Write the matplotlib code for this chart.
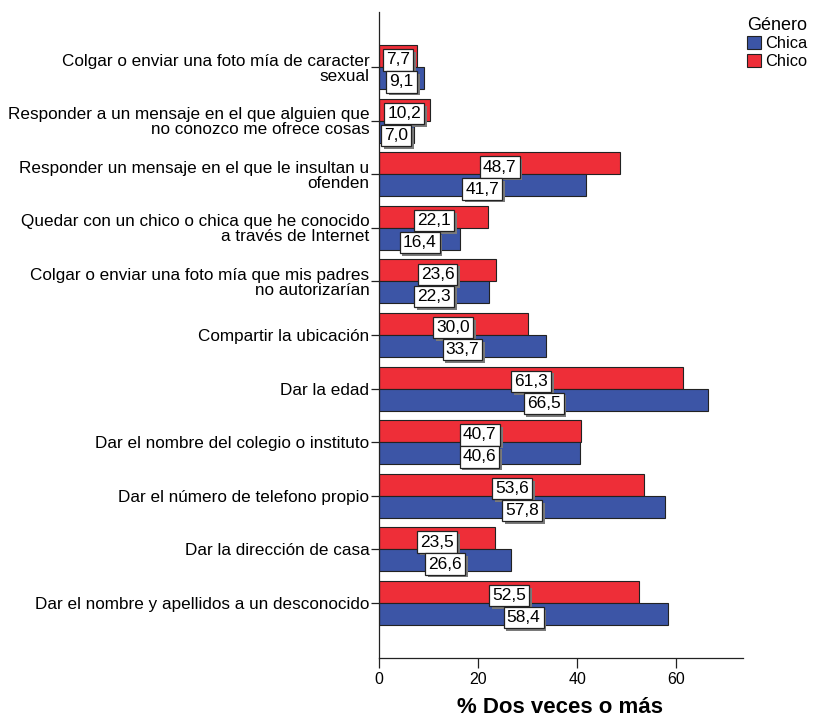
import matplotlib
matplotlib.use("Agg")
import matplotlib.pyplot as plt
import matplotlib.patheffects as pe
import numpy as np

plt.rcParams['font.family'] = ['Liberation Sans', 'DejaVu Sans']

categories = [
    "Colgar o enviar una foto mía de caracter\nsexual",
    "Responder a un mensaje en el que alguien que\nno conozco me ofrece cosas",
    "Responder un mensaje en el que le insultan u\nofenden",
    "Quedar con un chico o chica que he conocido\na través de Internet",
    "Colgar o enviar una foto mía que mis padres\nno autorizarían",
    "Compartir la ubicación",
    "Dar la edad",
    "Dar el nombre del colegio o instituto",
    "Dar el número de telefono propio",
    "Dar la dirección de casa",
    "Dar el nombre y apellidos a un desconocido",
]
chico = [7.7, 10.2, 48.7, 22.1, 23.6, 30.0, 61.3, 40.7, 53.6, 23.5, 52.5]
chica = [9.1, 7.0, 41.7, 16.4, 22.3, 33.7, 66.5, 40.6, 57.8, 26.6, 58.4]
xticks = [0, 20, 40, 60]

red = "#EE2E38"
blue = "#3C55A6"

fig = plt.figure(figsize=(8.14, 7.22), dpi=100)
ax = fig.add_axes([0.4656, 0.0886, 0.4472, 0.8948])

y = np.arange(len(categories))
h = 0.41
ax.barh(y - h / 2, chico, height=h, color=red, edgecolor="#222222", linewidth=0.8, label="Chico")
ax.barh(y + h / 2, chica, height=h, color=blue, edgecolor="#222222", linewidth=0.8, label="Chica")

def label(val, yy):
    txt = f"{val:.1f}".replace(".", ",")
    t = ax.text(val / 2, yy + 0.07, txt, ha='center', va='center', fontsize=12.5, color='black',
                bbox=dict(boxstyle='square,pad=0.18', facecolor='white', edgecolor='#222222', linewidth=0.9))
    t.get_bbox_patch().set_path_effects([
        pe.SimplePatchShadow(offset=(2, -2), shadow_rgbFace='#7a7a7a', alpha=1.0),
        pe.Normal()])

for i in range(len(categories)):
    label(chico[i], y[i] - h / 2)
    label(chica[i], y[i] + h / 2)

ax.set_ylim(11.03, -1.03)
ax.set_xlim(0, 73.5)
ax.set_yticks(y)
ax.set_yticklabels(categories, fontsize=12.3, linespacing=1.0)
ax.set_xticks(xticks)
ax.set_xticklabels([str(t) for t in xticks], fontsize=11.5)
ax.tick_params(axis='y', length=6, width=0.9, pad=1, colors='#222222', labelcolor='black')
ax.tick_params(axis='x', length=7, width=0.9, pad=3, colors='#222222', labelcolor='black')
for s in ['top', 'right']:
    ax.spines[s].set_visible(False)
for s in ['left', 'bottom']:
    ax.spines[s].set_linewidth(0.9)
    ax.spines[s].set_color('#222222')

fig.text(0.6875, 0.02, "% Dos veces o más", fontsize=16, fontweight='bold',
         ha='center', va='center')

handles, labels = ax.get_legend_handles_labels()
leg = fig.legend([handles[1], handles[0]], ["Chica", "Chico"], title="Género",
                 loc='upper right', bbox_to_anchor=(1.008, 0.995), frameon=False,
                 fontsize=11.8, title_fontsize=13, handlelength=0.85, handleheight=0.85,
                 handletextpad=0.25, labelspacing=0.15, borderpad=0.3)
leg._legend_box.align = "left"

fig.savefig("out.png", dpi=100)
